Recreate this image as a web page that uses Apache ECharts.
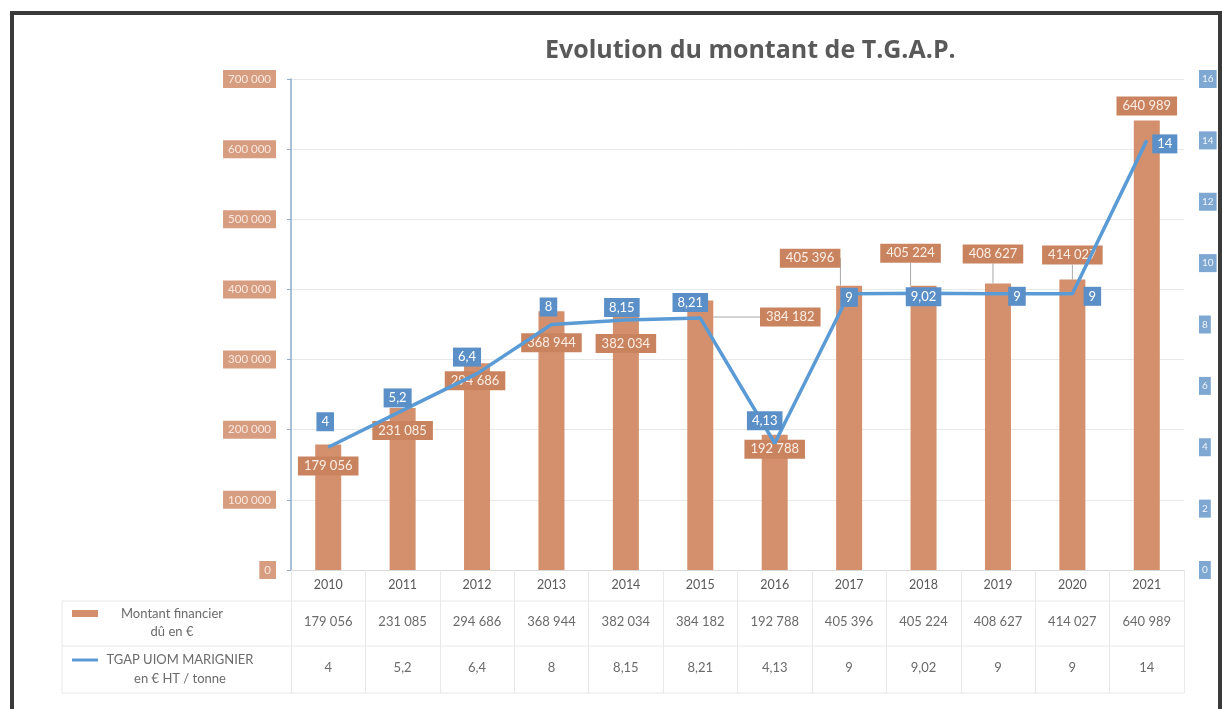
<!DOCTYPE html>
<html>
<head>
<meta charset="utf-8">
<script src="https://cdn.jsdelivr.net/npm/echarts@6/dist/echarts.min.js"></script>
<style>
html,body{margin:0;padding:0;background:#fff;}
#chart{width:1222px;height:709px;}
</style>
</head>
<body>
<div id="chart"></div>
<script>
// ---- data ----
const years = ['2010','2011','2012','2013','2014','2015','2016','2017','2018','2019','2020','2021'];
const montant = [179056, 231085, 294686, 368944, 382034, 384182, 192788, 405396, 405224, 408627, 414027, 640989];
const tgap = [4, 5.2, 6.4, 8, 8.15, 8.21, 4.13, 9, 9.02, 9, 9, 14];
const seriesNames = ['Montant financier dû en €', 'TGAP UIOM MARIGNIER en € HT / tonne'];
const titleText = 'Evolution du montant de T.G.A.P.';

// ---- label placement (style only) ----
const barLabelShift = [[0,31],[0,32],[-2,27],[0,41],[0,51],[90,26],[0,24],[-39,-18],[-13,-23],[-5,-20],[0,-15],[0,-5]];
const barLeader = [false,false,false,false,false,true,false,true,true,true,true,false];
const lineLabelShift = [[-3,-16],[-5,-3],[-10,-7],[-3,-8],[-4,-3],[-10,-6],[-10,-13],[0,13],[0,13],[19,12],[20,12],[18,13]];

const FONT = 'Lato, "Open Sans", sans-serif';
const fmtInt = v => String(Math.round(v)).replace(/\B(?=(\d{3})+(?!\d))/g, ' ');
const fmtDec = v => String(v).replace('.', ',');

const chart = echarts.init(document.getElementById('chart'));

const gridL = 291, gridR = 38, gridT = 79, gridB = 139;
const tableLeft = 62, tableRight = 1222 - gridR;
const rowTop = 601, rowMid = 646, rowBot = 693;

chart.setOption({
  backgroundColor: '#ffffff',
  textStyle: { fontFamily: FONT },
  title: {
    text: titleText,
    left: 540, top: 33,
    textStyle: { fontFamily: '"Open Sans", sans-serif', fontSize: 25, fontWeight: 'bold', color: '#595959' }
  },
  grid: { left: gridL, right: gridR, top: gridT, bottom: gridB },
  xAxis: [
    {
      type: 'category', data: years, position: 'bottom',
      axisLine: { show: true, lineStyle: { color: '#d9d9d9', width: 1 } },
      axisTick: { show: true, length: 123, interval: 0, lineStyle: { color: '#e8e8e8' } },
      axisLabel: { margin: 8, color: '#595959', fontSize: 12.5, fontFamily: FONT, interval: 0 }
    },
    {
      type: 'category', data: years, position: 'bottom',
      axisLine: { show: false }, axisTick: { show: false },
      axisLabel: { margin: 45, color: '#6b6b6b', fontSize: 13, fontFamily: FONT, interval: 0,
        formatter: (v, i) => fmtInt(montant[i]) }
    },
    {
      type: 'category', data: years, position: 'bottom',
      axisLine: { show: false }, axisTick: { show: false },
      axisLabel: { margin: 91, color: '#6b6b6b', fontSize: 13, fontFamily: FONT, interval: 0,
        formatter: (v, i) => fmtDec(tgap[i]) }
    }
  ],
  yAxis: [
    {
      type: 'value', min: 0, max: 700000, interval: 100000, position: 'left',
      axisLine: { show: true, lineStyle: { color: '#8eaccb', width: 1.5 } },
      axisTick: { show: true, length: 4, lineStyle: { color: '#8eaccb' } },
      splitLine: { show: true, lineStyle: { color: '#e8e8e8', width: 1 } },
      axisLabel: {
        margin: 15, fontSize: 11.5, fontFamily: FONT, color: '#fbe8df',
        backgroundColor: '#d79d80', padding: [3, 5],
        formatter: v => fmtInt(v)
      }
    },
    {
      type: 'value', min: 0, max: 16, interval: 2, position: 'right',
      axisLine: { show: false }, axisTick: { show: false },
      splitLine: { show: false },
      axisLabel: {
        margin: 15, fontSize: 10, fontFamily: FONT, color: '#eef4fb',
        backgroundColor: '#7ea7d2', padding: [4, 3],
        formatter: v => String(v)
      }
    }
  ],
  series: [
    {
      name: seriesNames[0], type: 'bar', xAxisIndex: 0, yAxisIndex: 0,
      barWidth: 26,
      itemStyle: { color: '#d4906c' },
      data: montant.map((v, i) => ({ value: v, labelLine: { show: barLeader[i] } })),
      label: {
        show: true, position: 'top', distance: 0,
        formatter: p => fmtInt(p.value),
        backgroundColor: '#c9845f', color: '#fbeee6', fontSize: 13, fontFamily: FONT,
        padding: [3, 6]
      },
      labelLine: { show: false, lineStyle: { color: '#a9a9a9', width: 1 } },
      labelLayout: p => ({ dx: barLabelShift[p.dataIndex][0], dy: barLabelShift[p.dataIndex][1] }),
      z: 2
    },
    {
      name: seriesNames[1], type: 'line', xAxisIndex: 0, yAxisIndex: 1,
      data: tgap,
      symbol: 'circle', symbolSize: 0, showSymbol: true,
      lineStyle: { color: '#5b9bd5', width: 3.5 },
      itemStyle: { color: '#5b9bd5' },
      label: {
        show: true, position: 'top', distance: 0,
        formatter: p => fmtDec(p.value),
        backgroundColor: '#5a8fc8', color: '#ffffff', fontSize: 13, fontFamily: FONT,
        padding: [3, 5]
      },
      labelLayout: p => ({ dx: lineLabelShift[p.dataIndex][0], dy: lineLabelShift[p.dataIndex][1] }),
      z: 5
    }
  ],
  graphic: [
    // outer frame
    { type: 'rect', shape: { x: 12, y: 13, width: 1208, height: 730 },
      style: { fill: 'none', stroke: '#3a3a3a', lineWidth: 4 }, silent: true },
    // data table lines
    { type: 'line', shape: { x1: tableLeft, y1: rowTop, x2: tableRight, y2: rowTop }, style: { stroke: '#e8e8e8', lineWidth: 1 } },
    { type: 'line', shape: { x1: tableLeft, y1: rowMid, x2: tableRight, y2: rowMid }, style: { stroke: '#e8e8e8', lineWidth: 1 } },
    { type: 'line', shape: { x1: tableLeft, y1: rowBot, x2: tableRight, y2: rowBot }, style: { stroke: '#e8e8e8', lineWidth: 1 } },
    { type: 'line', shape: { x1: tableLeft, y1: rowTop, x2: tableLeft, y2: rowBot }, style: { stroke: '#e8e8e8', lineWidth: 1 } },
    // legend keys
    { type: 'rect', shape: { x: 72, y: 610, width: 26, height: 7 }, style: { fill: '#d4906c' } },
    { type: 'text', x: 172, y: 623, style: { text: 'Montant financier\ndû en €', textAlign: 'center', textVerticalAlign: 'middle',
        font: '13px ' + FONT, fill: '#6b6b6b', lineHeight: 18 } },
    { type: 'line', shape: { x1: 72, y1: 660, x2: 98, y2: 660 }, style: { stroke: '#5b9bd5', lineWidth: 3 } },
    { type: 'text', x: 180, y: 669, style: { text: 'TGAP UIOM MARIGNIER\nen € HT / tonne', textAlign: 'center', textVerticalAlign: 'middle',
        font: '13px ' + FONT, fill: '#6b6b6b', lineHeight: 19 } }
  ]
});
</script>
</body>
</html>
